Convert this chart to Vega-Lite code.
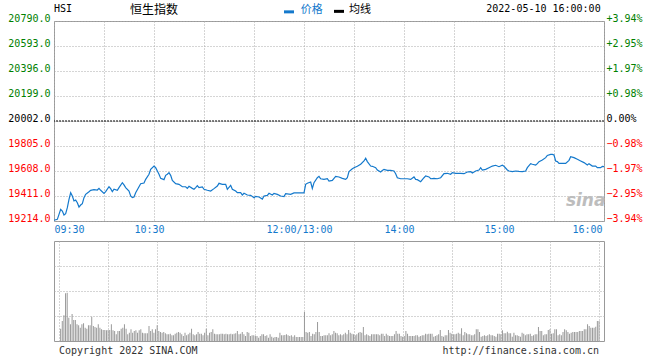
{
"$schema": "https://vega.github.io/schema/vega-lite/v6.json",
"padding": {"left": 7, "top": 3, "right": 0, "bottom": 0},
"background": "white",
"spacing": 20,
"bounds": "flush",
"config": {"view": {"stroke": "#999999", "strokeWidth": 1}, "font": "DejaVu Sans Mono"},
"datasets": {
"price": [
{"minute":0,"price":19220},{"minute":2,"price":19227},{"minute":3,"price":19266},{"minute":4,"price":19306},{"minute":5,"price":19293},{"minute":6,"price":19261},{"minute":7,"price":19272},{"minute":8,"price":19319},{"minute":9,"price":19385},{"minute":10,"price":19437},{"minute":11,"price":19411},{"minute":12,"price":19372},{"minute":13,"price":19379},{"minute":14,"price":19358},{"minute":15,"price":19324},{"minute":16,"price":19340},{"minute":17,"price":19351},{"minute":18,"price":19398},{"minute":19,"price":19424},{"minute":21,"price":19445},{"minute":22,"price":19456},{"minute":24,"price":19461},{"minute":26,"price":19458},{"minute":27,"price":19471},{"minute":28,"price":19456},{"minute":30,"price":19432},{"minute":31,"price":19445},{"minute":33,"price":19484},{"minute":34,"price":19469},{"minute":35,"price":19445},{"minute":36,"price":19464},{"minute":38,"price":19456},{"minute":39,"price":19477},{"minute":41,"price":19516},{"minute":42,"price":19498},{"minute":43,"price":19477},{"minute":45,"price":19450},{"minute":46,"price":19411},{"minute":47,"price":19398},{"minute":48,"price":19403},{"minute":49,"price":19437},{"minute":51,"price":19484},{"minute":52,"price":19508},{"minute":54,"price":19513},{"minute":55,"price":19542},{"minute":57,"price":19582},{"minute":58,"price":19621},{"minute":60,"price":19647},{"minute":61,"price":19634},{"minute":62,"price":19608},{"minute":63,"price":19582},{"minute":64,"price":19550},{"minute":66,"price":19540},{"minute":67,"price":19574},{"minute":68,"price":19582},{"minute":69,"price":19595},{"minute":70,"price":19574},{"minute":71,"price":19534},{"minute":73,"price":19508},{"minute":75,"price":19503},{"minute":77,"price":19484},{"minute":79,"price":19484},{"minute":80,"price":19471},{"minute":81,"price":19487},{"minute":83,"price":19471},{"minute":84,"price":19464},{"minute":85,"price":19477},{"minute":86,"price":19492},{"minute":87,"price":19477},{"minute":89,"price":19482},{"minute":90,"price":19464},{"minute":92,"price":19456},{"minute":94,"price":19450},{"minute":96,"price":19469},{"minute":98,"price":19490},{"minute":99,"price":19511},{"minute":101,"price":19503},{"minute":103,"price":19503},{"minute":104,"price":19464},{"minute":106,"price":19495},{"minute":107,"price":19464},{"minute":109,"price":19450},{"minute":110,"price":19437},{"minute":112,"price":19437},{"minute":113,"price":19419},{"minute":114,"price":19432},{"minute":116,"price":19419},{"minute":118,"price":19416},{"minute":120,"price":19398},{"minute":121,"price":19408},{"minute":123,"price":19403},{"minute":125,"price":19387},{"minute":126,"price":19411},{"minute":128,"price":19416},{"minute":129,"price":19432},{"minute":131,"price":19419},{"minute":132,"price":19432},{"minute":134,"price":19424},{"minute":136,"price":19411},{"minute":138,"price":19406},{"minute":139,"price":19429},{"minute":142,"price":19424},{"minute":144,"price":19435},{"minute":147,"price":19435},{"minute":150,"price":19435},{"minute":151,"price":19503},{"minute":152,"price":19511},{"minute":154,"price":19521},{"minute":155,"price":19471},{"minute":156,"price":19516},{"minute":158,"price":19555},{"minute":159,"price":19566},{"minute":160,"price":19547},{"minute":162,"price":19542},{"minute":164,"price":19547},{"minute":165,"price":19529},{"minute":167,"price":19534},{"minute":169,"price":19566},{"minute":171,"price":19561},{"minute":173,"price":19550},{"minute":175,"price":19542},{"minute":176,"price":19555},{"minute":177,"price":19603},{"minute":179,"price":19626},{"minute":180,"price":19634},{"minute":182,"price":19645},{"minute":184,"price":19661},{"minute":186,"price":19687},{"minute":187,"price":19708},{"minute":188,"price":19682},{"minute":190,"price":19647},{"minute":191,"price":19645},{"minute":193,"price":19634},{"minute":194,"price":19616},{"minute":196,"price":19600},{"minute":197,"price":19613},{"minute":198,"price":19621},{"minute":200,"price":19613},{"minute":202,"price":19613},{"minute":204,"price":19608},{"minute":205,"price":19587},{"minute":206,"price":19555},{"minute":208,"price":19547},{"minute":210,"price":19547},{"minute":212,"price":19547},{"minute":214,"price":19542},{"minute":216,"price":19561},{"minute":217,"price":19542},{"minute":218,"price":19540},{"minute":220,"price":19524},{"minute":221,"price":19540},{"minute":222,"price":19555},{"minute":223,"price":19569},{"minute":225,"price":19561},{"minute":226,"price":19547},{"minute":228,"price":19550},{"minute":230,"price":19547},{"minute":232,"price":19555},{"minute":234,"price":19587},{"minute":236,"price":19590},{"minute":238,"price":19582},{"minute":239,"price":19595},{"minute":241,"price":19590},{"minute":244,"price":19590},{"minute":246,"price":19587},{"minute":248,"price":19600},{"minute":250,"price":19603},{"minute":251,"price":19592},{"minute":253,"price":19608},{"minute":255,"price":19616},{"minute":256,"price":19634},{"minute":257,"price":19616},{"minute":259,"price":19621},{"minute":261,"price":19634},{"minute":263,"price":19647},{"minute":265,"price":19653},{"minute":267,"price":19642},{"minute":269,"price":19653},{"minute":270,"price":19645},{"minute":272,"price":19616},{"minute":273,"price":19608},{"minute":275,"price":19603},{"minute":277,"price":19608},{"minute":279,"price":19605},{"minute":281,"price":19603},{"minute":283,"price":19608},{"minute":284,"price":19634},{"minute":286,"price":19666},{"minute":287,"price":19661},{"minute":289,"price":19655},{"minute":290,"price":19666},{"minute":291,"price":19682},{"minute":293,"price":19695},{"minute":295,"price":19713},{"minute":296,"price":19731},{"minute":298,"price":19739},{"minute":299,"price":19739},{"minute":300,"price":19734},{"minute":301,"price":19687},{"minute":302,"price":19682},{"minute":303,"price":19668},{"minute":305,"price":19668},{"minute":307,"price":19668},{"minute":309,"price":19692},{"minute":310,"price":19721},{"minute":312,"price":19713},{"minute":314,"price":19700},{"minute":316,"price":19687},{"minute":318,"price":19674},{"minute":320,"price":19655},{"minute":321,"price":19666},{"minute":323,"price":19647},{"minute":325,"price":19647},{"minute":326,"price":19634},{"minute":328,"price":19634},{"minute":329,"price":19645},{"minute":330,"price":19642}
],
"volume": [
{"minute":1,"vol":12.3},{"minute":2,"vol":20},{"minute":3,"vol":25.7},{"minute":4,"vol":47.7},{"minute":5,"vol":48.3},{"minute":6,"vol":23.3},{"minute":7,"vol":16.7},{"minute":8,"vol":27},{"minute":9,"vol":21},{"minute":10,"vol":21},{"minute":11,"vol":16.7},{"minute":12,"vol":15.7},{"minute":13,"vol":13.3},{"minute":14,"vol":16.7},{"minute":15,"vol":17.7},{"minute":16,"vol":13.3},{"minute":17,"vol":12.3},{"minute":18,"vol":15.7},{"minute":19,"vol":15.7},{"minute":20,"vol":24.3},{"minute":21,"vol":15},{"minute":22,"vol":14},{"minute":23,"vol":13.3},{"minute":24,"vol":16.7},{"minute":25,"vol":13.3},{"minute":26,"vol":11.7},{"minute":27,"vol":11},{"minute":28,"vol":11},{"minute":29,"vol":10.7},{"minute":30,"vol":11},{"minute":31,"vol":11},{"minute":32,"vol":16.7},{"minute":33,"vol":10.7},{"minute":34,"vol":10},{"minute":35,"vol":6.7},{"minute":36,"vol":10},{"minute":37,"vol":10},{"minute":38,"vol":12.3},{"minute":39,"vol":13.3},{"minute":40,"vol":16.7},{"minute":41,"vol":12.3},{"minute":42,"vol":6.7},{"minute":43,"vol":8.3},{"minute":44,"vol":11.7},{"minute":45,"vol":8.3},{"minute":46,"vol":10},{"minute":47,"vol":10.7},{"minute":48,"vol":8.3},{"minute":49,"vol":10.7},{"minute":50,"vol":11.7},{"minute":51,"vol":8.3},{"minute":52,"vol":7.7},{"minute":53,"vol":7.7},{"minute":54,"vol":7.7},{"minute":55,"vol":15},{"minute":56,"vol":10},{"minute":57,"vol":11.7},{"minute":58,"vol":8.3},{"minute":59,"vol":11.7},{"minute":60,"vol":15.7},{"minute":61,"vol":10},{"minute":62,"vol":9},{"minute":63,"vol":8.3},{"minute":64,"vol":9},{"minute":65,"vol":7.7},{"minute":66,"vol":6.7},{"minute":67,"vol":6.7},{"minute":68,"vol":7.3},{"minute":69,"vol":5.7},{"minute":70,"vol":5.7},{"minute":71,"vol":7.3},{"minute":72,"vol":8.3},{"minute":73,"vol":9},{"minute":74,"vol":8.3},{"minute":75,"vol":6.7},{"minute":76,"vol":5},{"minute":77,"vol":8.3},{"minute":78,"vol":5.7},{"minute":79,"vol":6.7},{"minute":80,"vol":8.3},{"minute":81,"vol":12.3},{"minute":82,"vol":6.7},{"minute":83,"vol":5.7},{"minute":84,"vol":6.7},{"minute":85,"vol":9},{"minute":86,"vol":7.3},{"minute":87,"vol":7.3},{"minute":88,"vol":5.7},{"minute":89,"vol":8.3},{"minute":90,"vol":12.3},{"minute":91,"vol":5.7},{"minute":92,"vol":8.3},{"minute":93,"vol":9},{"minute":94,"vol":11.7},{"minute":95,"vol":7.3},{"minute":96,"vol":6.7},{"minute":97,"vol":6.7},{"minute":98,"vol":6.7},{"minute":99,"vol":7.3},{"minute":100,"vol":7.3},{"minute":101,"vol":6.7},{"minute":102,"vol":7.3},{"minute":103,"vol":6.7},{"minute":104,"vol":6.7},{"minute":105,"vol":7.3},{"minute":106,"vol":6.7},{"minute":107,"vol":7.3},{"minute":108,"vol":7.7},{"minute":109,"vol":10},{"minute":110,"vol":6.7},
{"minute":111,"vol":7.3},{"minute":112,"vol":9},{"minute":113,"vol":6.7},{"minute":114,"vol":5},{"minute":115,"vol":9},{"minute":116,"vol":8.3},{"minute":117,"vol":5},{"minute":118,"vol":5.7},{"minute":119,"vol":5.7},{"minute":120,"vol":5},{"minute":121,"vol":5},{"minute":122,"vol":3.3},{"minute":123,"vol":5},{"minute":124,"vol":6.7},{"minute":125,"vol":6.7},{"minute":126,"vol":5},{"minute":127,"vol":5.7},{"minute":128,"vol":3.3},{"minute":129,"vol":6.7},{"minute":130,"vol":4.3},{"minute":131,"vol":3.3},{"minute":132,"vol":4},{"minute":133,"vol":4},{"minute":134,"vol":3.3},{"minute":135,"vol":8.3},{"minute":136,"vol":5.7},{"minute":137,"vol":5.7},{"minute":138,"vol":6},{"minute":139,"vol":6.7},{"minute":140,"vol":5.7},{"minute":141,"vol":5},{"minute":142,"vol":5.7},{"minute":143,"vol":4.3},{"minute":144,"vol":5.7},{"minute":145,"vol":4},{"minute":146,"vol":4},{"minute":147,"vol":4},{"minute":148,"vol":4},{"minute":149,"vol":4},{"minute":150,"vol":29},{"minute":151,"vol":9},{"minute":152,"vol":8.3},{"minute":153,"vol":9},{"minute":154,"vol":5},{"minute":155,"vol":7.3},{"minute":156,"vol":6.7},{"minute":157,"vol":9},{"minute":158,"vol":19},{"minute":159,"vol":9},{"minute":160,"vol":5},{"minute":161,"vol":5},{"minute":162,"vol":5.7},{"minute":163,"vol":5.7},{"minute":164,"vol":5.7},{"minute":165,"vol":7.7},{"minute":166,"vol":5.7},{"minute":167,"vol":6.7},{"minute":168,"vol":10},{"minute":169,"vol":8.3},{"minute":170,"vol":7.7},{"minute":171,"vol":5.7},{"minute":172,"vol":6.7},{"minute":173,"vol":5.7},{"minute":174,"vol":6.7},{"minute":175,"vol":8.3},{"minute":176,"vol":6.7},{"minute":177,"vol":11},{"minute":178,"vol":8.3},{"minute":179,"vol":7.3},{"minute":180,"vol":6.7},{"minute":181,"vol":5.7},{"minute":182,"vol":6.7},{"minute":183,"vol":8.3},{"minute":184,"vol":9},{"minute":185,"vol":8.3},{"minute":186,"vol":14},{"minute":187,"vol":5.7},{"minute":188,"vol":6.7},{"minute":189,"vol":5.7},{"minute":190,"vol":5},{"minute":191,"vol":6.7},{"minute":192,"vol":6.7},{"minute":193,"vol":6.7},{"minute":194,"vol":6.7},{"minute":195,"vol":6.7},{"minute":196,"vol":5.7},{"minute":197,"vol":7.3},{"minute":198,"vol":7.3},{"minute":199,"vol":5},{"minute":200,"vol":7.3},{"minute":201,"vol":5.7},{"minute":202,"vol":5},{"minute":203,"vol":5},{"minute":204,"vol":5},{"minute":205,"vol":6.7},{"minute":206,"vol":10},{"minute":207,"vol":7.3},{"minute":208,"vol":7.3},{"minute":209,"vol":5},{"minute":210,"vol":4.3},{"minute":211,"vol":5},{"minute":212,"vol":10},{"minute":213,"vol":7.3},{"minute":214,"vol":5},{"minute":215,"vol":5},{"minute":216,"vol":5},{"minute":217,"vol":5},{"minute":218,"vol":5.7},{"minute":219,"vol":5.7},{"minute":220,"vol":4.3},{"minute":221,"vol":5},
{"minute":222,"vol":5.7},{"minute":223,"vol":5.7},{"minute":224,"vol":7.3},{"minute":225,"vol":6.7},{"minute":226,"vol":7.3},{"minute":227,"vol":7.3},{"minute":228,"vol":7.3},{"minute":229,"vol":4.3},{"minute":230,"vol":5},{"minute":231,"vol":5.7},{"minute":232,"vol":6.7},{"minute":233,"vol":11},{"minute":234,"vol":5},{"minute":235,"vol":4.3},{"minute":236,"vol":5.7},{"minute":237,"vol":5.7},{"minute":238,"vol":11},{"minute":239,"vol":8.3},{"minute":240,"vol":7.3},{"minute":241,"vol":6.7},{"minute":242,"vol":6.7},{"minute":243,"vol":7.3},{"minute":244,"vol":8.3},{"minute":245,"vol":7.3},{"minute":246,"vol":12.7},{"minute":247,"vol":5.7},{"minute":248,"vol":9},{"minute":249,"vol":7.7},{"minute":250,"vol":6.7},{"minute":251,"vol":6.7},{"minute":252,"vol":5.7},{"minute":253,"vol":5.7},{"minute":254,"vol":6.7},{"minute":255,"vol":11.7},{"minute":256,"vol":11.7},{"minute":257,"vol":9},{"minute":258,"vol":4.3},{"minute":259,"vol":5},{"minute":260,"vol":5.7},{"minute":261,"vol":5},{"minute":262,"vol":5.7},{"minute":263,"vol":6.7},{"minute":264,"vol":5.7},{"minute":265,"vol":5.7},{"minute":266,"vol":5},{"minute":267,"vol":4.3},{"minute":268,"vol":7.3},{"minute":269,"vol":7.3},{"minute":270,"vol":6.7},{"minute":271,"vol":10.7},{"minute":272,"vol":7.7},{"minute":273,"vol":7.7},{"minute":274,"vol":9.3},{"minute":275,"vol":7.7},{"minute":276,"vol":7.7},{"minute":277,"vol":4.3},{"minute":278,"vol":8.3},{"minute":279,"vol":5.7},{"minute":280,"vol":5.7},{"minute":281,"vol":5},{"minute":282,"vol":4.3},{"minute":283,"vol":8.3},{"minute":284,"vol":7.3},{"minute":285,"vol":5.7},{"minute":286,"vol":6.7},{"minute":287,"vol":6.7},{"minute":288,"vol":7.3},{"minute":289,"vol":5},{"minute":290,"vol":5.7},{"minute":291,"vol":6.7},{"minute":292,"vol":6.7},{"minute":293,"vol":14},{"minute":294,"vol":10},{"minute":295,"vol":10},{"minute":296,"vol":5.7},{"minute":297,"vol":6.7},{"minute":298,"vol":6.7},{"minute":299,"vol":11},{"minute":300,"vol":11.7},{"minute":301,"vol":7.3},{"minute":302,"vol":7.7},{"minute":303,"vol":11.7},{"minute":304,"vol":11.7},{"minute":305,"vol":5.7},{"minute":306,"vol":6.7},{"minute":307,"vol":5.7},{"minute":308,"vol":9},{"minute":309,"vol":11.7},{"minute":310,"vol":10.7},{"minute":311,"vol":9},{"minute":312,"vol":7.3},{"minute":313,"vol":8.3},{"minute":314,"vol":9},{"minute":315,"vol":9},{"minute":316,"vol":9},{"minute":317,"vol":9},{"minute":318,"vol":10},{"minute":319,"vol":10},{"minute":320,"vol":10},{"minute":321,"vol":11.7},{"minute":322,"vol":11.7},{"minute":323,"vol":16.7},{"minute":324,"vol":15},{"minute":325,"vol":13.3},{"minute":326,"vol":13.3},{"minute":327,"vol":13.3},{"minute":328,"vol":14.3},{"minute":329,"vol":20},{"minute":330,"vol":20}
]
},
"vconcat": [
{
"width": 550, "height": 200,
"resolve": {"axis": {"y": "independent"}},
"layer": [
{"data": {"name": "price"},
 "mark": {"type": "line", "color": "#1479cc", "strokeWidth": 1.2},
 "encoding": {
  "x": {"field": "minute", "type": "quantitative", "scale": {"domain": [0, 330], "nice": false, "zero": false},
   "axis": {"title": null, "values": [0,30,60,90,120,150,180,210,240,270,300,330], "grid": true, "gridColor": "#aaaaaa", "gridDash": [1,2], "ticks": false, "tickSize": 0, "domain": false, "labelExpr": "datum.value == 0 ? '09:30' : datum.value == 60 ? '10:30' : datum.value == 150 ? '12:00/13:00' : datum.value == 210 ? '14:00' : datum.value == 270 ? '15:00' : datum.value == 330 ? '16:00' : ''", "labelColor": "#1479cc", "labelFont": "DejaVu Sans Mono", "labelFontSize": 10, "labelPadding": 3, "labelFlush": true, "labelOverlap": false, "labelBound": false,
    "labelOffset": {"condition": [{"test": "datum.value == 0", "value": 0}, {"test": "datum.value == 330", "value": -2}], "value": -5}}},
  "y": {"field": "price", "type": "quantitative", "scale": {"domain": [19214, 20790], "nice": false, "zero": false},
   "axis": {"orient": "left", "title": null, "values": [19214,19411,19608,19805,20002,20199,20396,20593,20790], "format": ".1f", "grid": true, "gridColor": "#aaaaaa", "gridDash": [1,2], "ticks": false, "tickSize": 0, "domain": false, "labelFont": "DejaVu Sans Mono", "labelFontSize": 10, "labelPadding": 4, "labelBaseline": "middle", "labelOffset": -3, "labelFlush": false, "labelOverlap": false,
    "labelColor": {"condition": [{"test": "datum.value > 20002", "value": "#008000"}, {"test": "datum.value < 20002", "value": "#ff0000"}], "value": "#000000"}}}
 }},
{"data": {"values": [{"prev": "close"}]},
 "mark": {"type": "rule", "color": "#000000", "strokeWidth": 1, "strokeDash": [2, 1]},
 "encoding": {
  "y": {"datum": 20002, "type": "quantitative", "scale": {"domain": [19214, 20790], "nice": false, "zero": false},
   "axis": {"orient": "right", "title": null, "values": [19214,19411,19608,19805,20002,20199,20396,20593,20790], "grid": false, "ticks": false, "tickSize": 0, "domain": false, "labelFont": "DejaVu Sans Mono", "labelFontSize": 10, "labelPadding": 2, "labelBaseline": "middle", "labelOffset": -3, "labelFlush": false, "labelOverlap": false,
    "labelExpr": "datum.value == 20002 ? '0.00%' : (datum.value > 20002 ? '+' : '') + format((datum.value - 20002) / 20002 * 100, '.2f') + '%'",
    "labelColor": {"condition": [{"test": "datum.value > 20002", "value": "#008000"}, {"test": "datum.value < 20002", "value": "#ff0000"}], "value": "#000000"}}}
 }},
{"data": {"values": [{"t": "HSI"}]},
 "mark": {"type": "text", "align": "left", "baseline": "middle", "font": "DejaVu Sans Mono", "fontSize": 10, "color": "#000000"},
 "encoding": {"x": {"datum": 0, "type": "quantitative"}, "y": {"datum": 20885, "type": "quantitative", "axis": null}, "text": {"field": "t"}}},
{"data": {"values": [{"t": "恒生指数"}]},
 "mark": {"type": "text", "align": "center", "baseline": "middle", "font": "Noto Sans CJK SC", "fontSize": 12, "color": "#000000"},
 "encoding": {"x": {"datum": 60, "type": "quantitative"}, "y": {"datum": 20880, "type": "quantitative", "axis": null}, "text": {"field": "t"}}},
{"data": {"values": [{"t": "价格"}]},
 "mark": {"type": "rule", "color": "#1479cc", "strokeWidth": 3},
 "encoding": {"x": {"datum": 138, "type": "quantitative"}, "x2": {"datum": 144}, "y": {"datum": 20862, "type": "quantitative", "axis": null}}},
{"data": {"values": [{"t": "价格"}]},
 "mark": {"type": "text", "align": "left", "baseline": "middle", "font": "Noto Sans CJK SC", "fontSize": 11, "color": "#1479cc"},
 "encoding": {"x": {"datum": 148, "type": "quantitative"}, "y": {"datum": 20880, "type": "quantitative", "axis": null}, "text": {"field": "t"}}},
{"data": {"values": [{"t": "均线"}]},
 "mark": {"type": "rule", "color": "#000000", "strokeWidth": 3},
 "encoding": {"x": {"datum": 168, "type": "quantitative"}, "x2": {"datum": 174}, "y": {"datum": 20866, "type": "quantitative", "axis": null}}},
{"data": {"values": [{"t": "均线"}]},
 "mark": {"type": "text", "align": "left", "baseline": "middle", "font": "Noto Sans CJK SC", "fontSize": 11, "color": "#000000"},
 "encoding": {"x": {"datum": 177, "type": "quantitative"}, "y": {"datum": 20880, "type": "quantitative", "axis": null}, "text": {"field": "t"}}},
{"data": {"values": [{"t": "2022-05-10 16:00:00"}]},
 "mark": {"type": "text", "align": "right", "baseline": "middle", "font": "DejaVu Sans Mono", "fontSize": 10, "color": "#000000"},
 "encoding": {"x": {"datum": 328, "type": "quantitative"}, "y": {"datum": 20885, "type": "quantitative", "axis": null}, "text": {"field": "t"}}},
{"data": {"values": [{"t": "sina"}]},
 "mark": {"type": "text", "align": "center", "baseline": "middle", "font": "DejaVu Sans", "fontSize": 17, "fontStyle": "italic", "fontWeight": "bold", "color": "#bdbdbd"},
 "encoding": {"x": {"datum": 319, "type": "quantitative"}, "y": {"datum": 19372, "type": "quantitative", "axis": null}, "text": {"field": "t"}}}
]
},
{
"width": 550, "height": 100,
"layer": [
{"data": {"name": "volume"},
 "mark": {"type": "bar", "color": "#999999", "size": 1},
 "encoding": {
  "x": {"field": "minute", "type": "quantitative", "scale": {"domain": [0, 330], "nice": false, "zero": false},
   "axis": {"title": null, "values": [0,30,60,90,120,150,180,210,240,270,300,330], "grid": true, "gridColor": "#aaaaaa", "gridDash": [1,2], "ticks": false, "domain": false, "labels": false}},
  "y": {"field": "vol", "type": "quantitative", "scale": {"domain": [0, 100], "nice": false},
   "axis": {"title": null, "values": [25, 50, 75], "grid": true, "gridColor": "#aaaaaa", "gridDash": [1,2], "ticks": false, "domain": false, "labels": false}}
 }},
{"data": {"values": [{"t": "Copyright 2022 SINA.COM"}]},
 "mark": {"type": "text", "align": "left", "baseline": "middle", "font": "DejaVu Sans Mono", "fontSize": 10, "color": "#333333"},
 "encoding": {"x": {"datum": 0, "type": "quantitative"}, "y": {"datum": -10, "type": "quantitative"}, "text": {"field": "t"}}},
{"data": {"values": [{"t": "http://finance.sina.com.cn"}]},
 "mark": {"type": "text", "align": "right", "baseline": "middle", "font": "DejaVu Sans Mono", "fontSize": 10, "color": "#333333"},
 "encoding": {"x": {"datum": 330, "type": "quantitative"}, "y": {"datum": -10, "type": "quantitative"}, "text": {"field": "t"}}}
]
}
]
}
